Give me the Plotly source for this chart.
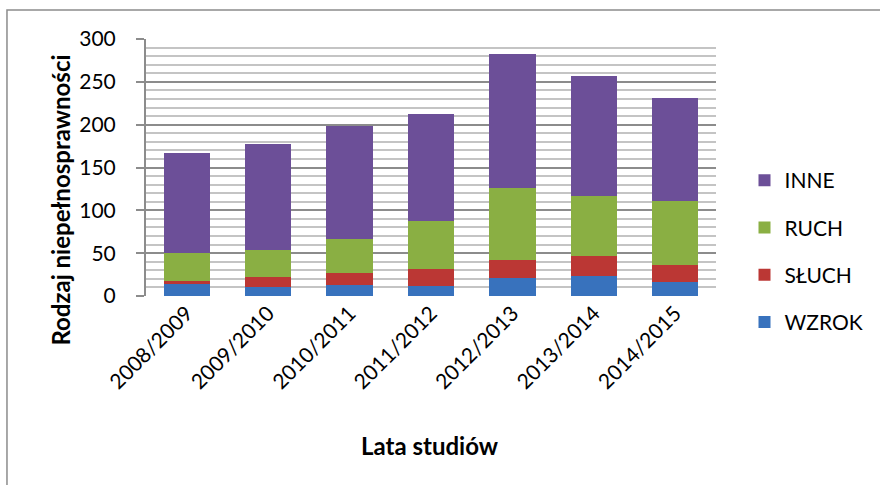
import plotly.graph_objects as go

years = ["2008/2009", "2009/2010", "2010/2011", "2011/2012", "2012/2013", "2013/2014", "2014/2015"]
wzrok = [14, 10, 13, 12, 21, 23, 16]
sluch = [3, 12, 14, 20, 21, 24, 20]
ruch = [33, 32, 40, 56, 84, 70, 75]
inne = [117, 124, 132, 124, 156, 140, 120]

series = [
    ("WZROK", wzrok, "#3872BD", 4),
    ("SŁUCH", sluch, "#BB3734", 3),
    ("RUCH", ruch, "#8AAF43", 2),
    ("INNE", inne, "#6C4F98", 1),
]

FONT = "Lato"

fig = go.Figure()
for name, vals, col, rank in series:
    fig.add_trace(go.Bar(
        x=years, y=vals, name=name, legendgroup=name, legendrank=rank,
        marker=dict(color=col, line=dict(width=0)),
    ))

fig.update_layout(
    width=880, height=485,
    barmode="stack", bargap=0.43,
    paper_bgcolor="white", plot_bgcolor="white",
    margin=dict(l=146, r=160, t=39, b=189),
    font=dict(family=FONT, size=21, color="black"),
    legend=dict(
        x=1.05, xanchor="left", y=0.173, yanchor="middle",
        traceorder="grouped", tracegroupgap=17,
        font=dict(family=FONT, size=21),
        itemwidth=30,
    ),
    xaxis=dict(
        tickangle=-45, showgrid=False, showline=False, ticks="",
        tickfont=dict(family=FONT, size=21),
    ),
    yaxis=dict(
        range=[0, 300], tickvals=[0, 50, 100, 150, 200, 250, 300],
        showgrid=True, gridcolor="#8C8C8C", gridwidth=2,
        minor=dict(dtick=10, showgrid=True, gridcolor="#C4C4C4", gridwidth=2),
        showline=True, linecolor="#8C8C8C", linewidth=2,
        ticks="outside", ticklen=8, tickcolor="#8C8C8C", tickwidth=2,
        ticklabelstandoff=16,
        tickfont=dict(family=FONT, size=21),
        zeroline=False,
    ),
    annotations=[
        dict(text="<b>Rodzaj niepełnosprawności</b>", textangle=-90,
             xref="paper", yref="paper",
             x=(59 - 146) / 574, y=(296 - 200) / 257,
             xanchor="center", yanchor="middle", showarrow=False,
             font=dict(family=FONT, size=24, color="black")),
        dict(text="<b>Lata studiów</b>",
             xref="paper", yref="paper",
             x=(432 - 146) / 574, y=(296 - 445) / 257,
             xanchor="center", yanchor="middle", showarrow=False,
             font=dict(family=FONT, size=24, color="black")),
    ],
    shapes=[
        dict(type="rect", xref="paper", yref="paper",
             x0=(6 - 146) / 574, x1=3, y0=-3, y1=1 + (39 - 10) / 257,
             line=dict(color="#8C8C8C", width=1.5), fillcolor="rgba(0,0,0,0)",
             layer="below"),
    ],
)

fig.write_html("out.html", config={"displayModeBar": False},
               post_script="document.body.style.margin='0';")
